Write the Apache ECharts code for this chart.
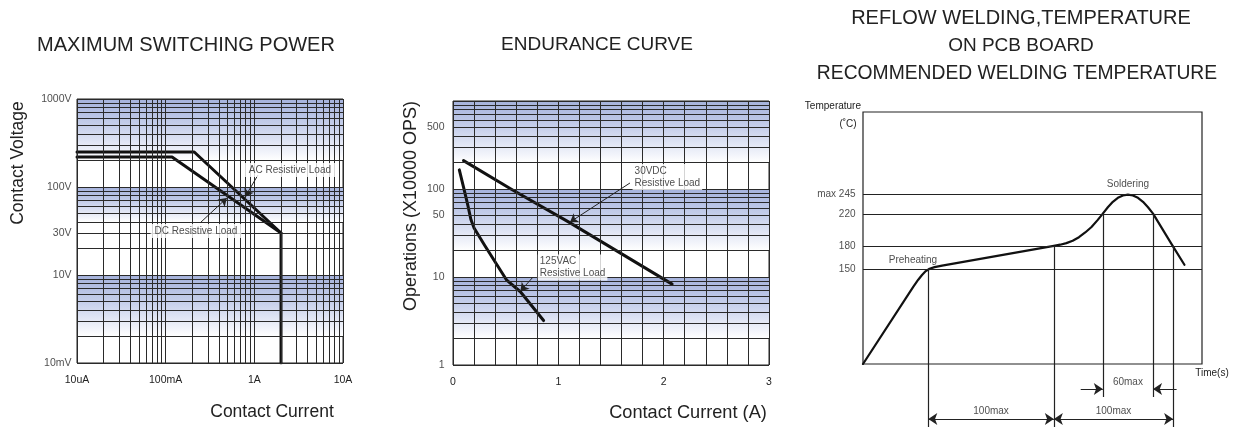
<!DOCTYPE html>
<html><head><meta charset="utf-8">
<script src="https://cdn.jsdelivr.net/npm/echarts@6/dist/echarts.min.js"></script>
<style>html,body{margin:0;padding:0;background:#fff}#c{width:1238px;height:427px}</style>
</head><body><div id="c"></div>
<script>
// ---------- Panel 1: MAXIMUM SWITCHING POWER ----------
const p1XTickValues = [0.01, 0.1, 1, 10];
const p1XTickLabels = ['10uA', '100mA', '1A', '10A'];
const p1YTickValues = [1, 10, 30, 100, 1000];
const p1YTickLabels = ['10mV', '10V', '30V', '100V', '1000V'];
const p1AC = [[0.01, 250], [0.21, 250], [2, 30], [2, 1]];
const p1DC = [[0.01, 219], [0.118, 219], [2, 30]];
const p1Bands = [[1000, 200], [100, 40], [10, 2]];
const p1NoteText = ['AC Resistive Load', 'DC Resistive Load'];
const p1NoteAt = [[2.52, 156], [0.22, 31.6]];
const p1ArrowFrom = [[1.1, 137], [0.244, 39]];
const p1ArrowTo = [[0.785, 77], [0.49, 75]];

// ---------- Panel 2: ENDURANCE CURVE ----------
const p2XTickValues = [0, 1, 2, 3];
const p2YTickValues = [1, 10, 50, 100, 500];
const p2DC30V = [[0.1, 210], [0.55, 100], [1.1, 42], [2.08, 8.3]];
const p2AC125V = [[0.06, 165], [0.1, 105], [0.14, 66], [0.17, 45], [0.2, 36], [0.3, 23], [0.51, 9.2], [0.64, 6.8], [0.86, 3.2]];
const p2Bands = [[1000, 200], [100, 20], [10, 2]];
const p2NoteText = ['30VDC\nResistive Load', '125VAC\nResistive Load'];
const p2NoteAt = [[1.70, 137], [0.80, 12.8]];
const p2ArrowFrom = [[1.68, 117], [0.76, 10]];
const p2ArrowTo = [[1.11, 42], [0.64, 6.9]];

// ---------- Panel 3: REFLOW WELDING ----------
const p3YTickValues = [150, 180, 220, 245];
const p3YTickLabels = ['150', '180', '220', 'max 245'];
const p3Profile = [[0, 30], [40, 128], [44, 137], [47, 143], [50, 148], [53, 151], [57, 153], [63, 155],
  [152, 180], [157, 181.5], [162, 183.5], [167, 186.5], [172, 191], [177, 197], [182, 204], [187, 213],
  [191, 221], [195, 229], [199, 236], [203, 241], [207, 244], [211, 245], [215, 244], [219, 241],
  [223, 236], [227, 229], [231, 221], [247, 179], [256, 156]];
const p3MarkTime = [52, 152, 191, 231, 247];
const p3MarkTemp = [150, 180, 220, 220, 180];
const p3MarkDrop = [63, 63, 33, 33, 63];
const p3SpanFrom = [52, 152];
const p3SpanTo = [152, 247];
const p3SpanText = ['100max', '100max'];
const p3WindowFrom = [191, 231];
const p3WindowText = '60max';
const p3PhaseText = ['Preheating', 'Soldering'];
const p3PhaseAt = [[39.8, 162], [211, 258.6]];

const FONT = 'Liberation Sans, Arial, Helvetica, sans-serif';
const INK = '#222';

function logLines(lo, hi) {
  const out = [];
  for (let e = Math.round(Math.log10(lo)); e < Math.round(Math.log10(hi)); e++) {
    for (let d = 1; d < 10; d++) out.push(+(d * Math.pow(10, e)).toPrecision(6));
  }
  out.push(hi);
  return out;
}
function linLines(lo, hi, step) {
  const out = [];
  for (let v = lo; v <= hi + 1e-9; v += step) out.push(+v.toFixed(6));
  return out;
}
const bandGrad = {type: 'linear', x: 0, y: 0, x2: 0, y2: 1,
  colorStops: [{offset: 0, color: '#a5b2dc'}, {offset: 0.45, color: '#c7d0eb'}, {offset: 1, color: '#ffffff'}]};

function bandSeries(i, bands) {
  return {type: 'line', xAxisIndex: i, yAxisIndex: i, data: [], z: 1, silent: true,
    markArea: {silent: true, itemStyle: {color: bandGrad, opacity: 1},
      data: bands.map(b => [{yAxis: b[0]}, {yAxis: b[1]}])}};
}
function gridSeries(i, xs, ys, color, width) {
  return {type: 'line', xAxisIndex: i, yAxisIndex: i, data: [], z: 2, silent: true,
    markLine: {silent: true, symbol: 'none', label: {show: false}, emphasis: {disabled: true},
      lineStyle: {color: color || '#2a2a2a', width: width || 1, type: 'solid'},
      data: xs.map(v => ({xAxis: v})).concat(ys.map(v => ({yAxis: v})))}};
}
function curve(i, data, width) {
  return {type: 'line', xAxisIndex: i, yAxisIndex: i, data: data, z: 4, silent: true,
    symbol: 'none', showSymbol: false, smooth: false,
    lineStyle: {color: '#111', width: width, join: 'round', cap: 'round'}};
}
function arrowSeries(i, from, to, symbols, size) {
  return {type: 'line', xAxisIndex: i, yAxisIndex: i, data: [], z: 4, silent: true,
    markLine: {silent: true, symbol: symbols || ['none', 'arrow'], symbolSize: size || 8,
      label: {show: false}, emphasis: {disabled: true},
      lineStyle: {color: INK, width: 1, type: 'solid'},
      data: from.map((f, k) => [{coord: f}, {coord: to[k]}])}};
}
function textSeries(i, pts, texts, label) {
  return {type: 'scatter', xAxisIndex: i, yAxisIndex: i, z: 6, silent: true, clip: false,
    symbolSize: 1, itemStyle: {color: 'rgba(0,0,0,0)'},
    data: pts.map((p, k) => ({name: texts[k], value: p})),
    label: Object.assign({show: true, formatter: p => p.name, color: INK, fontFamily: FONT, fontSize: 10}, label)};
}

const p1XTickFmt = v => {
  const k = p1XTickValues.findIndex(t => Math.abs(Math.log10(t) - Math.log10(v)) < 1e-6);
  return k >= 0 ? p1XTickLabels[k] : '';
};

const titleStyle = (size) => ({fontSize: size, fontWeight: 'normal', color: INK, fontFamily: FONT});
function freeText(text, x, y, size, align) {
  return {text: text, left: x, top: y, padding: 0, textAlign: align || 'center', textVerticalAlign: 'middle',
    textStyle: titleStyle(size)};
}

const option = {
  animation: false,
  backgroundColor: '#fff',
  title: [
    freeText('MAXIMUM SWITCHING POWER', 186, 45, 20),
    freeText('ENDURANCE CURVE', 597, 45, 19),
    freeText('REFLOW WELDING,TEMPERATURE', 1021, 18, 20),
    freeText('ON PCB BOARD', 1021, 46, 19),
    freeText('RECOMMENDED WELDING TEMPERATURE', 1017, 74, 19.3),
    freeText('Contact Current', 272, 412, 17.5),
    freeText('Contact Current (A)', 688, 413, 18.2),
    freeText('Temperature', 861, 106, 10, 'right'),
    freeText('(˚C)', 848, 124, 10),
    freeText('Time(s)', 1212, 373, 10)
  ],
  graphic: [
    {type: 'text', x: 18, y: 163, rotation: Math.PI / 2,
      style: {text: 'Contact Voltage', font: '17.5px ' + FONT, fill: INK, textAlign: 'center', textVerticalAlign: 'middle'}},
    {type: 'text', x: 411, y: 206, rotation: Math.PI / 2,
      style: {text: 'Operations (X10000 OPS)', font: '18px ' + FONT, fill: INK, textAlign: 'center', textVerticalAlign: 'middle'}}
  ],
  grid: [
    {left: 77, top: 99, width: 266, height: 264, show: true, borderColor: '#222', borderWidth: 1, backgroundColor: 'transparent', outerBoundsMode: 'none', containLabel: false},
    {left: 453, top: 101, width: 316, height: 264, show: true, borderColor: '#222', borderWidth: 1, backgroundColor: 'transparent', outerBoundsMode: 'none', containLabel: false},
    {left: 863, top: 112, width: 339, height: 252, show: true, borderColor: '#222', borderWidth: 1.2, backgroundColor: 'transparent', outerBoundsMode: 'none', containLabel: false},
    {left: 863, top: 364, width: 339, height: 63, show: false, outerBoundsMode: 'none', containLabel: false}
  ],
  xAxis: [
    {gridIndex: 0, type: 'log', logBase: 10, min: 0.01, max: 10,
      axisLine: {show: false}, axisTick: {show: false}, splitLine: {show: false},
      axisLabel: {formatter: p1XTickFmt, showMinLabel: true, showMaxLabel: true, fontSize: 10.5, color: INK, fontFamily: FONT, margin: 12}},
    {gridIndex: 1, type: 'value', min: 0, max: 3, interval: 1,
      axisLine: {show: false}, axisTick: {show: false}, splitLine: {show: false},
      axisLabel: {fontSize: 10.5, color: INK, fontFamily: FONT, margin: 12, showMinLabel: true, showMaxLabel: true}},
    {gridIndex: 2, type: 'value', min: 0, max: 270, show: false, splitLine: {show: false}},
    {gridIndex: 3, type: 'value', min: 0, max: 270, show: false, splitLine: {show: false}}
  ],
  yAxis: [
    {gridIndex: 0, type: 'log', logBase: 10, min: 1, max: 1000, axisLabel: {show: false}, axisLine: {show: false}, axisTick: {show: false}, splitLine: {show: false}},
    {gridIndex: 1, type: 'log', logBase: 10, min: 1, max: 1000, axisLabel: {show: false}, axisLine: {show: false}, axisTick: {show: false}, splitLine: {show: false}},
    {gridIndex: 2, type: 'value', min: 30, max: 350, show: false, splitLine: {show: false}},
    {gridIndex: 3, type: 'value', min: 0, max: 63, inverse: true, show: false, splitLine: {show: false}}
  ],
  series: [
    // panel 1
    bandSeries(0, p1Bands),
    gridSeries(0, logLines(0.01, 10), logLines(1, 1000)),
    curve(0, p1AC, 3),
    curve(0, p1DC, 3),
    arrowSeries(0, p1ArrowFrom, p1ArrowTo),
    textSeries(0, p1NoteAt, p1NoteText, {position: 'inside', backgroundColor: '#fff', padding: [2, 4], fontSize: 10}),
    textSeries(0, p1YTickValues.map(v => [0.01, v]), p1YTickLabels, {position: 'left', distance: 5, fontSize: 10.5}),
    // panel 2
    bandSeries(1, p2Bands),
    gridSeries(1, linLines(0, 3, 0.2), logLines(1, 1000)),
    curve(1, p2DC30V, 3),
    curve(1, p2AC125V, 3),
    arrowSeries(1, p2ArrowFrom, p2ArrowTo),
    textSeries(1, p2NoteAt, p2NoteText, {position: 'right', distance: 0, align: 'left', lineHeight: 12, backgroundColor: '#fff', padding: [1, 2], fontSize: 10}),
    textSeries(1, p2YTickValues.map(v => [0, v]), p2YTickValues.map(String), {position: 'left', distance: 8, fontSize: 10.5}),
    // panel 3
    gridSeries(2, [], p3YTickValues, '#222', 1.2),
    {type: 'line', xAxisIndex: 2, yAxisIndex: 2, data: [], z: 3, silent: true,
      markLine: {silent: true, symbol: 'none', label: {show: false}, emphasis: {disabled: true},
        lineStyle: {color: '#222', width: 1.2, type: 'solid'},
        data: p3MarkTime.map((t, k) => [{coord: [t, p3MarkTemp[k]]}, {coord: [t, 30]}])}},
    {type: 'line', xAxisIndex: 3, yAxisIndex: 3, data: [], z: 3, silent: true,
      markLine: {silent: true, symbol: 'none', label: {show: false}, emphasis: {disabled: true},
        lineStyle: {color: '#222', width: 1.2, type: 'solid'},
        data: p3MarkTime.map((t, k) => [{coord: [t, 0]}, {coord: [t, p3MarkDrop[k]]}])}},
    curve(2, p3Profile, 2.2),
    arrowSeries(3, p3SpanFrom.map(t => [t, 55]), p3SpanTo.map(t => [t, 55]), ['arrow', 'arrow'], 9),
    arrowSeries(3, [[173.4, 25], [249.8, 25]], p3WindowFrom.map(t => [t, 25]), ['none', 'arrow'], 9),
    textSeries(3, p3SpanFrom.map((t, k) => [(t + p3SpanTo[k]) / 2, 47]), p3SpanText, {position: 'inside', fontSize: 10}),
    textSeries(3, [[(p3WindowFrom[0] + p3WindowFrom[1]) / 2, 18]], [p3WindowText], {position: 'inside', fontSize: 10}),
    textSeries(2, p3PhaseAt, p3PhaseText, {position: 'inside', fontSize: 10}),
    textSeries(2, p3YTickValues.map(v => [0, v]), p3YTickLabels, {position: 'left', distance: 7, fontSize: 10})
  ]
};

const chart = echarts.init(document.getElementById('c'), null, {renderer: 'canvas'});
chart.setOption(option);
</script>
</body></html>
